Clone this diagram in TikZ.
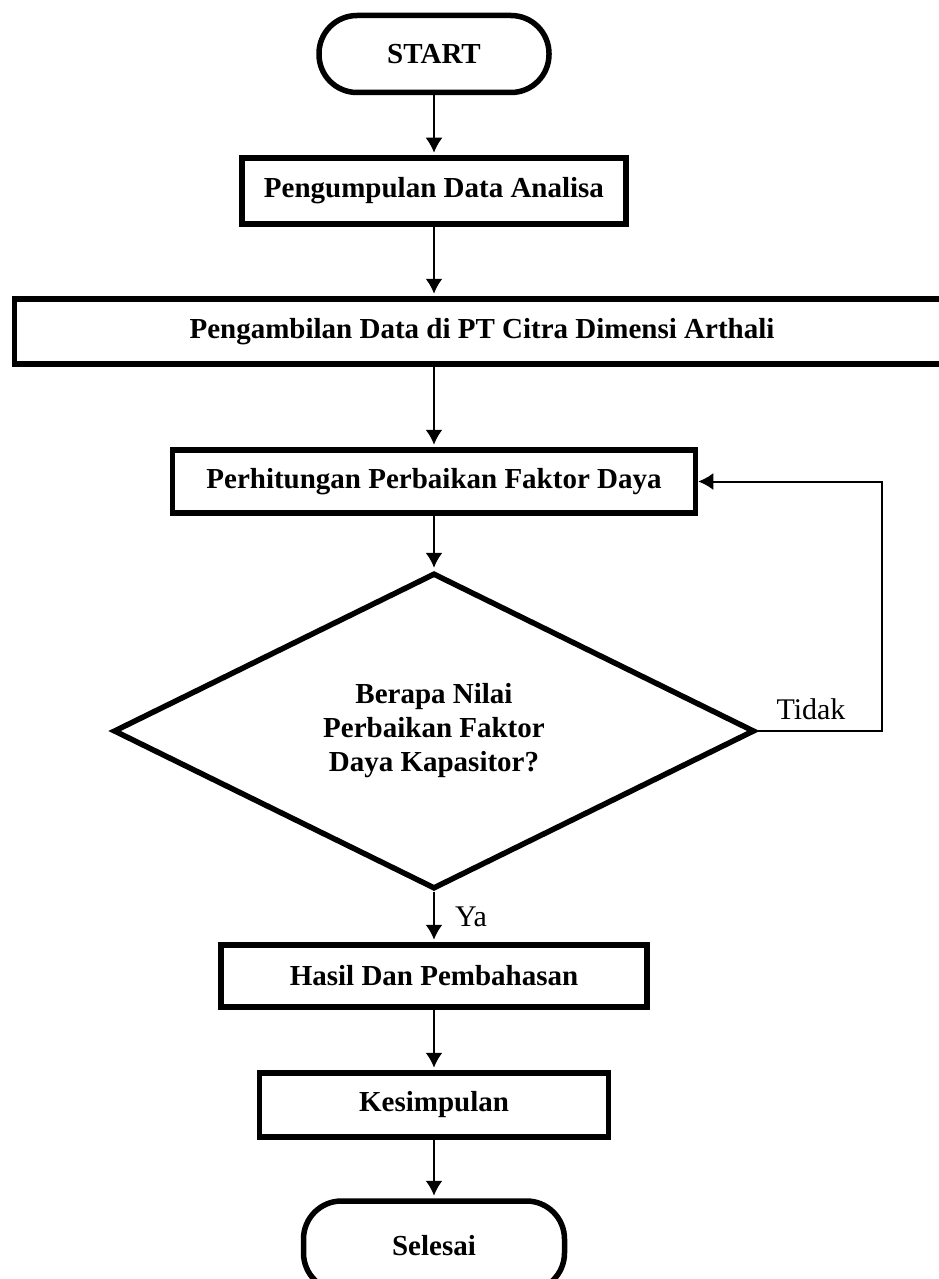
\documentclass[tikz,border=0pt]{standalone}
\usepackage{fontspec}
\setmainfont{Liberation Serif}
\usetikzlibrary{shapes.geometric,arrows.meta}

\begin{document}
\begin{tikzpicture}[x=1pt,y=1pt,->,>={Latex[length=15pt,width=17pt]},line width=2pt,
       term/.style={rectangle,draw,rounded corners=38pt,line width=5.5pt,inner sep=0pt,
           minimum width=230pt,minimum height=77pt,font=\fontsize{29}{34}\selectfont\bfseries},
       block/.style={rectangle,draw,line width=5.5pt,inner sep=0pt,
           font=\fontsize{29}{34}\selectfont\bfseries},
       decision/.style={diamond,draw,line width=5.5pt,inner sep=0pt,align=center,
           minimum width=641pt,minimum height=302pt,font=\fontsize{29}{34}\selectfont\bfseries},
       answer/.style={inner sep=0pt,font=\fontsize{30}{36}\selectfont},
       edge from parent/.style={draw,->,shorten >=2.5pt},
       edge from parent path={(\tikzparentnode.south -| start) -- (\tikzchildnode.north -| start)}]
   \useasboundingbox (0,0) rectangle (938,-1279);
   \node [term] (start) at (434,-54) {START}
       child [level distance=137pt] {node [block,minimum width=384pt,minimum height=66pt] (collect) {Pengumpulan Data Analisa}
         child [level distance=140.5pt] {node [block,minimum width=935pt,minimum height=65pt,xshift=48pt] (fetch) {Pengambilan Data di PT Citra Dimensi Arthali}
           child [level distance=150pt] {node [block,minimum width=523pt,minimum height=63pt,xshift=-48pt] (calc) {Perhitungan Perbaikan Faktor Daya}
             child [level distance=249.5pt] {node [decision] (dec) {Berapa Nilai\\Perbaikan Faktor\\Daya Kapasitor?}
               child [level distance=245pt] {node [block,minimum width=426pt,minimum height=62pt] (result) {Hasil Dan Pembahasan}
                 child [level distance=129pt] {node [block,minimum width=349pt,minimum height=64pt] (concl) {Kesimpulan}
                   child [level distance=141pt] {node [term,minimum width=261pt,minimum height=90pt] (stop) {Selesai}}}
                 edge from parent node [answer,midway,right=20pt] (yes) {Ya}}}}}};
   % loop back when the value is not found yet
   \draw (dec.east) -- node [answer,pos=0.43,above=10pt] (no) {Tidak} +(125,0) |- (calc.east);
\end{tikzpicture}
\end{document}
